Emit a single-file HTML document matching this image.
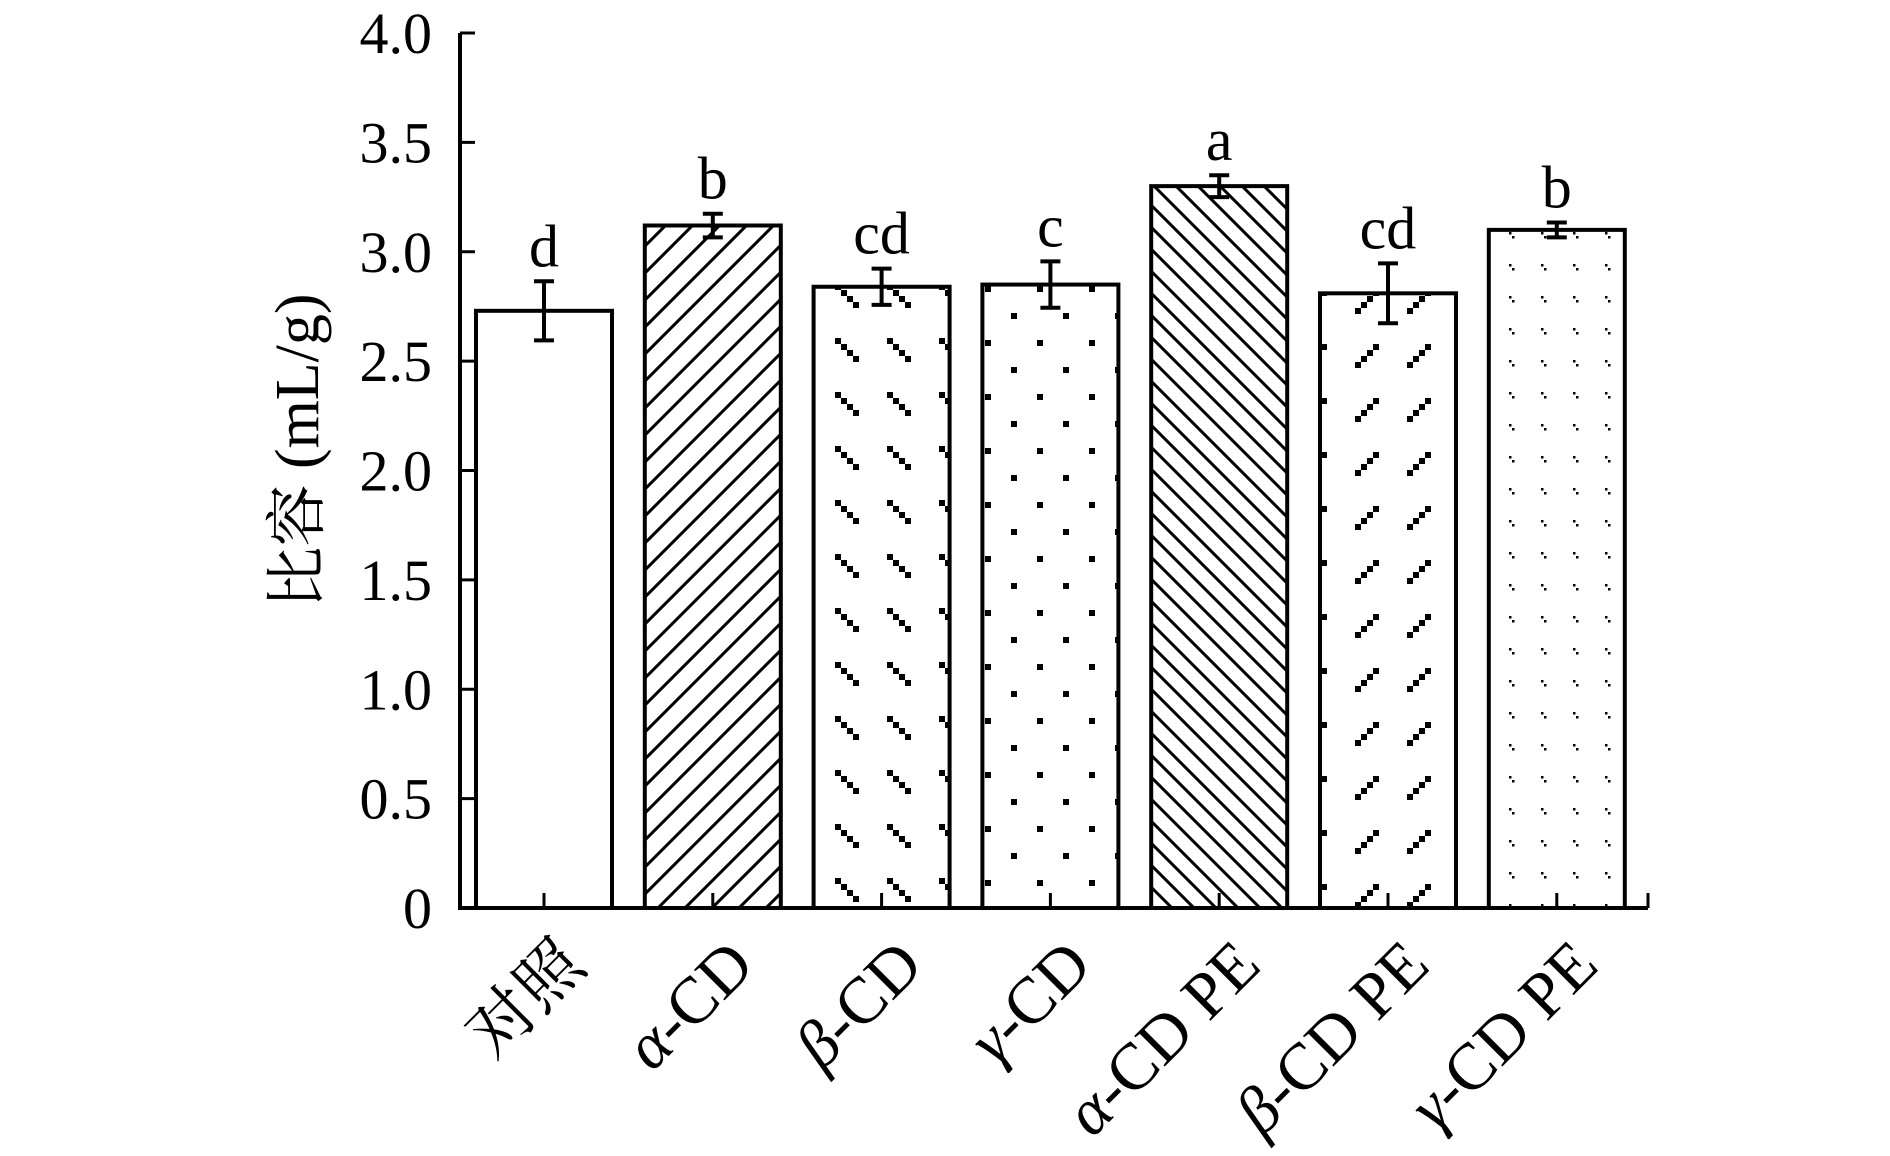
<!DOCTYPE html>
<html><head><meta charset="utf-8"><style>
html,body{margin:0;padding:0;background:#fff}
svg{display:block}
text{font-family:"Liberation Serif","Noto Serif CJK SC",serif;fill:#000}
</style></head><body>
<svg id="chart" width="1890" height="1156" viewBox="0 0 1890 1156" xmlns="http://www.w3.org/2000/svg">
<defs>
<pattern id="p-fwd" patternUnits="userSpaceOnUse" width="27" height="27"><path d="M-5,32 L32,-5 M-5,5 L5,-5 M22,32 L32,22" stroke="#000" stroke-width="3"/></pattern>
<pattern id="p-back" patternUnits="userSpaceOnUse" width="22" height="22"><path d="M-5,-5 L27,27 M17,-5 L27,5 M-5,17 L5,27" stroke="#000" stroke-width="3"/></pattern>
<pattern id="p-dashback" patternUnits="userSpaceOnUse" width="52" height="54" x="3" y="14"><path d="M0,0h6v6h-6zM6,6h6v6h-6zM12,12h6v6h-6zM18,18h6v6h-6z" fill="#000"/></pattern>
<pattern id="p-dashfwd" patternUnits="userSpaceOnUse" width="52" height="54" x="3" y="20"><path d="M18,0h6v6h-6zM12,6h6v6h-6zM6,12h6v6h-6zM0,18h6v6h-6z" fill="#000"/></pattern>
<pattern id="p-dots" patternUnits="userSpaceOnUse" width="52" height="54" x="-3" y="16"><rect x="0" y="0" width="6" height="6" fill="#000"/><rect x="26" y="27" width="6" height="6" fill="#000"/></pattern>
<pattern id="p-fine" patternUnits="userSpaceOnUse" width="32" height="32" x="5" y="8"><rect x="0" y="0" width="2.5" height="2.5" fill="#000"/><rect x="3" y="4" width="2.5" height="2.5" fill="#000"/></pattern>
</defs>
<g id="plot"></g>
</svg>
<script>
const categories = ["对照", "α-CD", "β-CD", "γ-CD", "α-CD PE", "β-CD PE", "γ-CD PE"];
const values = [2.73, 3.12, 2.84, 2.85, 3.30, 2.81, 3.10];
const errors = [0.135, 0.054, 0.083, 0.106, 0.05, 0.137, 0.034];
const letters = ["d", "b", "cd", "c", "a", "cd", "b"];
const yTicks = [0, 0.5, 1.0, 1.5, 2.0, 2.5, 3.0, 3.5, 4.0];
const yTickLabels = ["0", "0.5", "1.0", "1.5", "2.0", "2.5", "3.0", "3.5", "4.0"];
const fills = ["#fff", "url(#p-fwd)", "url(#p-dashback)", "url(#p-dots)", "url(#p-back)", "url(#p-dashfwd)", "url(#p-fine)"];

const NS = "http://www.w3.org/2000/svg";
const g = document.getElementById('plot');
const X0 = 460, X1 = 1648, Y0 = 908, YTOP = 33;
const yScale = v => Y0 - (Y0 - YTOP) * v / 4.0;
const firstCenter = 544, pitch = 168.8, barW = 136;
const xCenter = i => firstCenter + i * pitch;
function mk(tag, attrs, parent) { const e = document.createElementNS(NS, tag); for (const k in attrs) e.setAttribute(k, attrs[k]); (parent || g).appendChild(e); return e; }

values.forEach((v, i) => {
  const cx = xCenter(i), top = yScale(v);
  const r = mk('rect', {x: cx - barW / 2, y: top, width: barW, height: Y0 - top, fill: '#fff', stroke: 'none'});
  
  
  const b = mk('rect', {x: cx - barW / 2, y: top, width: barW, height: Y0 - top, fill: fills[i], stroke: '#000', 'stroke-width': 4});
  
  
  const t = mk('line', {x1: cx, x2: cx, y1: Y0, y2: Y0 - 15, stroke: '#000', 'stroke-width': 3});
  
  
  const eTop = yScale(v + errors[i]), eBot = yScale(v - errors[i]);
  const eg = mk('path', {d: `M${cx},${eTop}V${eBot}M${cx - 10},${eTop}H${cx + 10}M${cx - 10},${eBot}H${cx + 10}`, stroke: '#000', 'stroke-width': 4, fill: 'none'});
  
  
  const lt = mk('text', {x: cx, y: eTop - 15, 'text-anchor': 'middle', 'font-size': 60});
  lt.textContent = letters[i];
  
  
  const ax_ = cx + 44, ay_ = 968;
  const cl = mk('text', {x: ax_, y: ay_, 'text-anchor': 'end', 'font-size': 66, transform: `rotate(-45 ${ax_} ${ay_})`});
  
  
  const m = categories[i].match(/^([αβγ])(.*)$/);
  if (m) { const s1 = mk('tspan', {'font-style': 'italic'}, cl); s1.textContent = m[1]; const s2 = mk('tspan', {}, cl); s2.textContent = m[2]; }
  else cl.textContent = categories[i];
});

const ax = mk('path', {d: `M${X0},${YTOP}V${Y0}H${X1}`, stroke: '#000', 'stroke-width': 4, fill: 'none'});


const rt = mk('line', {x1: X1, x2: X1, y1: Y0, y2: Y0 - 15, stroke: '#000', 'stroke-width': 3});


yTicks.forEach((v, i) => {
  const y = yScale(v);
  const tk = mk('line', {x1: X0, x2: X0 + 15, y1: y, y2: y, stroke: '#000', 'stroke-width': 3});
  
  
  const tl = mk('text', {x: 432, y: y + 20, 'text-anchor': 'end', 'font-size': 58});
  tl.textContent = yTickLabels[i];
  
  
});
const yt = mk('text', {x: 318, y: 451, 'text-anchor': 'middle', 'font-size': 62, transform: 'rotate(-90 318 451)'});
yt.textContent = '比容 (mL/g)';


</script>
</body></html>
